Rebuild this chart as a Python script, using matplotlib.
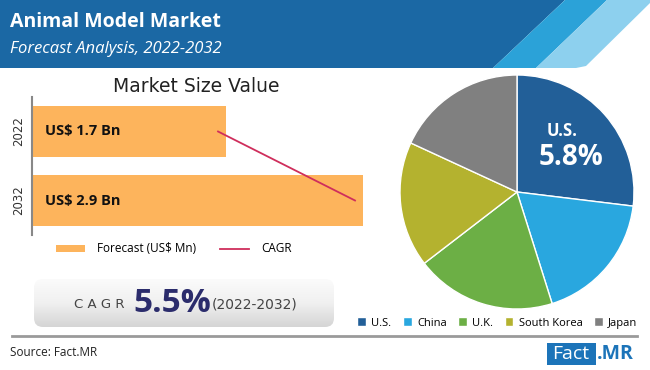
import numpy as np
import matplotlib
matplotlib.use("Agg")
import matplotlib.pyplot as plt
from matplotlib.patches import Polygon, Rectangle, FancyBboxPatch

# data
years = ["2022", "2032"]
market_bn = [1.7, 2.9]
bar_labels = ["US$ 1.7 Bn", "US$ 2.9 Bn"]
cagr_line = [1.63, 2.83]
regions = ["U.S.", "China", "U.K.", "South Korea", "Japan"]
shares = [26.9, 18.2, 19.4, 17.3, 18.1]
region_colors = ["#225f98", "#29a7df", "#6caf45", "#b4b22f", "#808080"]
us_cagr = "5.8%"
cagr_total = "5.5%"

W, H = 650, 370
fig = plt.figure(figsize=(6.5, 3.7), dpi=100)
fig.patch.set_facecolor("white")

# full-figure layer in pixel coordinates
bg = fig.add_axes([0, 0, 1, 1], zorder=0)
bg.set_xlim(0, W)
bg.set_ylim(H, 0)
bg.axis("off")

# header band with stripes
bg.add_patch(Polygon([(0, 0), (565, 0), (493, 68), (0, 68)], color="#1b68a4", lw=0))
bg.add_patch(Polygon([(565, 0), (607, 0), (536, 68), (493, 68)], color="#2ba2d8", lw=0))
bg.add_patch(Polygon([(607, 0), (650, 0), (650, 3), (586, 66), (576, 68), (536, 68)],
                     color="#8dd0ee", lw=0))
bg.text(10, 22, "Animal Model Market", color="white", fontsize=14, fontweight="bold",
        family="Open Sans", va="center")
bg.text(10, 49, "Forecast Analysis, 2022-2032", color="white", fontsize=12, style="italic",
        family="Open Sans", va="center")

bg.text(196, 86, "Market Size Value", fontsize=13.5, family="DejaVu Sans",
        ha="center", va="center", color="#222222")

# CAGR box with gradient
box = FancyBboxPatch((34, 279), 300, 48, boxstyle="round,pad=0,rounding_size=9",
                     fc="none", ec="none")
bg.add_patch(box)
grad = np.linspace(0, 1, 100).reshape(-1, 1)
im = bg.imshow(grad, cmap=matplotlib.colors.LinearSegmentedColormap.from_list(
    "g", ["#fbfbfb", "#f0f0f0", "#d5d5d5"]), extent=(34, 334, 327, 279),
    aspect="auto", zorder=1)
im.set_clip_path(box)
bg.set_xlim(0, W)
bg.set_ylim(H, 0)
bg.text(74, 304, "C A G R", fontsize=9.5, color="#444444", va="center", family="DejaVu Sans",
        zorder=2)
bg.text(133, 303, cagr_total, fontsize=24, color="#2b2c6c", fontweight="bold", va="center",
        family="Open Sans", zorder=2)
bg.text(212, 304, "(2022-2032)", fontsize=10, color="#444444", va="center",
        family="DejaVu Sans", zorder=2)

# divider and footer
bg.plot([12, 637], [336, 336], color="#9a9a9a", lw=2)
bg.text(10, 353, "Source: Fact.MR", fontsize=8.5, family="Open Sans", va="center",
        color="#222222")
bg.add_patch(Rectangle((547, 343), 49, 22, color="#1c74b9", lw=0))
bg.text(571, 354, "Fact", color="white", fontsize=14, ha="center", va="center",
        family="Open Sans")
bg.text(597, 354, ".MR", color="#1c74b9", fontsize=14, fontweight="bold", va="center",
        family="Open Sans")

# bar chart
ax = fig.add_axes([32 / W, 1 - 235 / H, 348 / W, 138 / H], zorder=2)
ax.patch.set_alpha(0)
ypos = np.arange(len(years))
bars = ax.barh(ypos, market_bn, height=0.75, color="#fdb45c", label="Forecast (US$ Mn)")
line, = ax.plot(cagr_line, ypos, color="#cf2e5c", lw=1.3, label="CAGR")
for y, lab in zip(ypos, bar_labels):
    ax.text(0.11, y, lab, fontsize=10.5, fontweight="bold", va="center", family="Open Sans",
            color="#111111")
ax.set_xlim(0, 2.9 * 348 / 331)
ax.set_ylim(1.5, -0.5)
ax.set_yticks(ypos)
ax.set_yticklabels(years, rotation=90, va="center", fontsize=8.5, color="#333333")
ax.tick_params(axis="y", length=0, pad=5)
ax.set_xticks([])
for s in ["top", "right", "bottom"]:
    ax.spines[s].set_visible(False)
ax.spines["left"].set_color("#888888")
ax.spines["left"].set_linewidth(1.5)
ax.legend(handles=[bars, line], loc="center left", bbox_to_anchor=(45 / W, 1 - 249 / H),
          bbox_transform=fig.transFigure, ncol=2, frameon=False,
          prop={"family": "Open Sans", "size": 8.5},
          handlelength=2.5, columnspacing=2.0, handleheight=0.5, handletextpad=1.0)

# pie chart
cx, cy, r = 517, 192, 120
pax = fig.add_axes([(cx - r) / W, 1 - (cy + r) / H, 2 * r / W, 2 * r / H], zorder=2)
wedges, _ = pax.pie(shares, colors=region_colors, startangle=90, counterclock=False,
                    radius=117 / 120, wedgeprops=dict(edgecolor="white", linewidth=1))
pax.set_xlim(-1, 1)
pax.set_ylim(-1, 1)
pax.set_aspect("equal")
pax.text(0.38, 0.51, "U.S.", color="white", fontsize=12, fontweight="bold",
         ha="center", va="center", family="Open Sans")
pax.text(0.45, 0.29, us_cagr, color="white", fontsize=20, fontweight="bold",
         ha="center", va="center", family="Open Sans")

fig.legend(handles=wedges, labels=regions, loc="center left",
           bbox_to_anchor=(347 / W, 1 - 323 / H), ncol=5, frameon=False,
           handlelength=0.8, handleheight=0.8, handletextpad=0.5, columnspacing=1.0,
           prop={"family": "Open Sans", "size": 8})

fig.savefig("out.png", dpi=100)
